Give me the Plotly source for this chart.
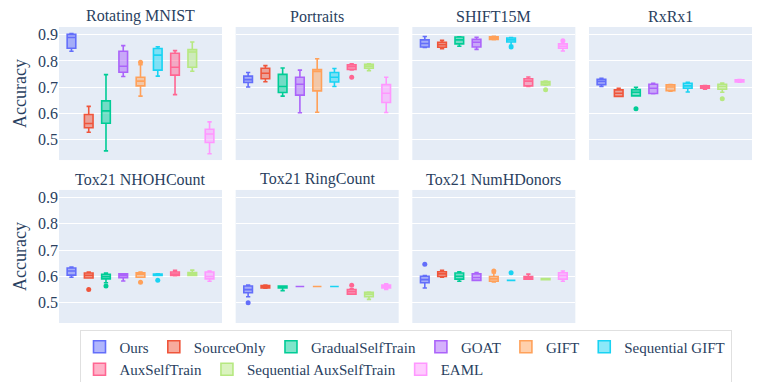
import plotly.graph_objects as go
from plotly.subplots import make_subplots

methods = ["Ours", "SourceOnly", "GradualSelfTrain", "GOAT", "GIFT",
           "Sequential GIFT", "AuxSelfTrain", "Sequential AuxSelfTrain", "EAML"]
colors = ["#636efa", "#EF553B", "#00cc96", "#ab63fa", "#FFA15A",
          "#19d3f3", "#FF6692", "#B6E880", "#FF97FF"]
datasets = ["Rotating MNIST", "Portraits", "SHIFT15M", "RxRx1",
            "Tox21 NHOHCount", "Tox21 RingCount", "Tox21 NumHDonors"]

# one row per dataset, one column per method
lower = [
    [0.837, 0.529, 0.458, 0.741, 0.666, 0.742, 0.672, 0.761, 0.447],
    [0.701, 0.721, 0.666, 0.603, 0.605, 0.703, 0.766, 0.763, 0.604],
    [0.851, 0.846, 0.856, 0.844, 0.881, 0.859, 0.703, 0.708, 0.838],
    [0.703, 0.665, 0.667, 0.675, 0.685, 0.682, 0.692, 0.681, 0.719],
    [0.597, 0.594, 0.576, 0.583, 0.597, 0.604, 0.603, 0.604, 0.582],
    [0.523, 0.555, 0.546, 0.562, 0.562, 0.562, 0.533, 0.513, 0.551],
    [0.556, 0.597, 0.582, 0.585, 0.579, 0.585, 0.590, 0.588, 0.582],
]
q1 = [
    [0.848, 0.546, 0.563, 0.757, 0.705, 0.765, 0.746, 0.776, 0.490],
    [0.718, 0.732, 0.680, 0.670, 0.686, 0.720, 0.768, 0.772, 0.642],
    [0.853, 0.852, 0.865, 0.853, 0.882, 0.872, 0.705, 0.709, 0.848],
    [0.710, 0.665, 0.667, 0.676, 0.687, 0.696, 0.696, 0.692, 0.720],
    [0.605, 0.594, 0.591, 0.595, 0.597, 0.604, 0.604, 0.604, 0.591],
    [0.538, 0.556, 0.556, 0.562, 0.562, 0.562, 0.533, 0.523, 0.556],
    [0.576, 0.600, 0.590, 0.585, 0.582, 0.585, 0.590, 0.588, 0.590],
]
median = [
    [0.889, 0.562, 0.610, 0.780, 0.723, 0.822, 0.776, 0.834, 0.522],
    [0.729, 0.753, 0.703, 0.711, 0.760, 0.738, 0.778, 0.780, 0.677],
    [0.866, 0.862, 0.880, 0.871, 0.889, 0.880, 0.723, 0.716, 0.856],
    [0.722, 0.677, 0.681, 0.696, 0.701, 0.705, 0.701, 0.703, 0.724],
    [0.621, 0.604, 0.599, 0.603, 0.609, 0.606, 0.609, 0.609, 0.600],
    [0.550, 0.562, 0.562, 0.562, 0.562, 0.562, 0.542, 0.533, 0.562],
    [0.588, 0.610, 0.601, 0.596, 0.591, 0.585, 0.595, 0.590, 0.603],
]
q3 = [
    [0.901, 0.596, 0.648, 0.837, 0.738, 0.847, 0.829, 0.843, 0.540],
    [0.742, 0.772, 0.749, 0.738, 0.767, 0.756, 0.785, 0.787, 0.710],
    [0.880, 0.871, 0.891, 0.882, 0.892, 0.887, 0.732, 0.722, 0.865],
    [0.730, 0.690, 0.691, 0.711, 0.709, 0.715, 0.705, 0.711, 0.728],
    [0.632, 0.613, 0.608, 0.610, 0.614, 0.609, 0.617, 0.615, 0.617],
    [0.564, 0.565, 0.564, 0.562, 0.562, 0.562, 0.550, 0.540, 0.567],
    [0.601, 0.618, 0.613, 0.610, 0.600, 0.585, 0.600, 0.592, 0.614],
]
upper = [
    [0.904, 0.627, 0.748, 0.858, 0.786, 0.854, 0.839, 0.872, 0.568],
    [0.756, 0.782, 0.773, 0.765, 0.808, 0.771, 0.789, 0.789, 0.738],
    [0.893, 0.878, 0.892, 0.890, 0.894, 0.889, 0.739, 0.723, 0.866],
    [0.734, 0.696, 0.700, 0.715, 0.710, 0.719, 0.706, 0.716, 0.729],
    [0.636, 0.617, 0.613, 0.610, 0.617, 0.610, 0.623, 0.624, 0.621],
    [0.567, 0.567, 0.564, 0.562, 0.562, 0.562, 0.553, 0.541, 0.572],
    [0.603, 0.623, 0.618, 0.615, 0.613, 0.585, 0.609, 0.592, 0.621],
]
# (dataset index, method index, value)
outliers = [
    (0, 4, 0.795),
    (1, 6, 0.738),
    (2, 5, 0.853), (2, 7, 0.690), (2, 8, 0.877),
    (3, 2, 0.618), (3, 7, 0.656),
    (4, 1, 0.550), (4, 2, 0.564), (4, 4, 0.578), (4, 5, 0.586),
    (5, 0, 0.500), (5, 6, 0.567),
    (6, 0, 0.646), (6, 4, 0.621), (6, 5, 0.614),
]

FONT = "Liberation Serif"

fig = make_subplots(rows=2, cols=4, shared_yaxes=True,
                    horizontal_spacing=0.0197, vertical_spacing=0.101,
                    subplot_titles=datasets,
                    specs=[[{}, {}, {}, {}], [{}, {}, {}, None]])

for d, name in enumerate(datasets):
    r, c = d // 4 + 1, d % 4 + 1
    for m, meth in enumerate(methods):
        fig.add_trace(go.Box(
            x=[meth], q1=[q1[d][m]], median=[median[d][m]], q3=[q3[d][m]],
            lowerfence=[lower[d][m]], upperfence=[upper[d][m]],
            name=meth, legendgroup=meth, showlegend=(d == 0),
            marker_color=colors[m], line_width=1.6, width=0.5, boxpoints=False,
        ), row=r, col=c)
    for (dd, m, v) in outliers:
        if dd != d:
            continue
        fig.add_trace(go.Scatter(
            x=[methods[m]], y=[v], mode="markers", legendgroup=methods[m],
            showlegend=False, marker=dict(color=colors[m], size=5),
        ), row=r, col=c)

fig.update_xaxes(showticklabels=False, showgrid=False, automargin=False,
                 categoryorder="array", categoryarray=methods)
fig.update_yaxes(range=[0.423, 0.929], dtick=0.1, automargin=False,
                 tickfont=dict(family=FONT, size=16, color="#2a3f5f"))
fig.update_yaxes(title_text="Accuracy", title_standoff=6,
                 title_font=dict(family=FONT, size=18, color="#2a3f5f"), col=1)
fig.update_annotations(font=dict(family=FONT, size=16, color="#2a3f5f"))

fig.update_layout(
    width=763, height=382,
    template="plotly",
    font=dict(family=FONT, size=16, color="#2a3f5f"),
    margin=dict(l=51, r=19, t=19, b=67, autoexpand=False),
    boxmode="overlay",
    legend=dict(orientation="h", x=0.5, xanchor="center",
                y=-0.022, yanchor="top", bordercolor="#e0e0e0", borderwidth=1,
                font=dict(family=FONT, size=15), tracegroupgap=0),
)

fig.write_html("out.html")
